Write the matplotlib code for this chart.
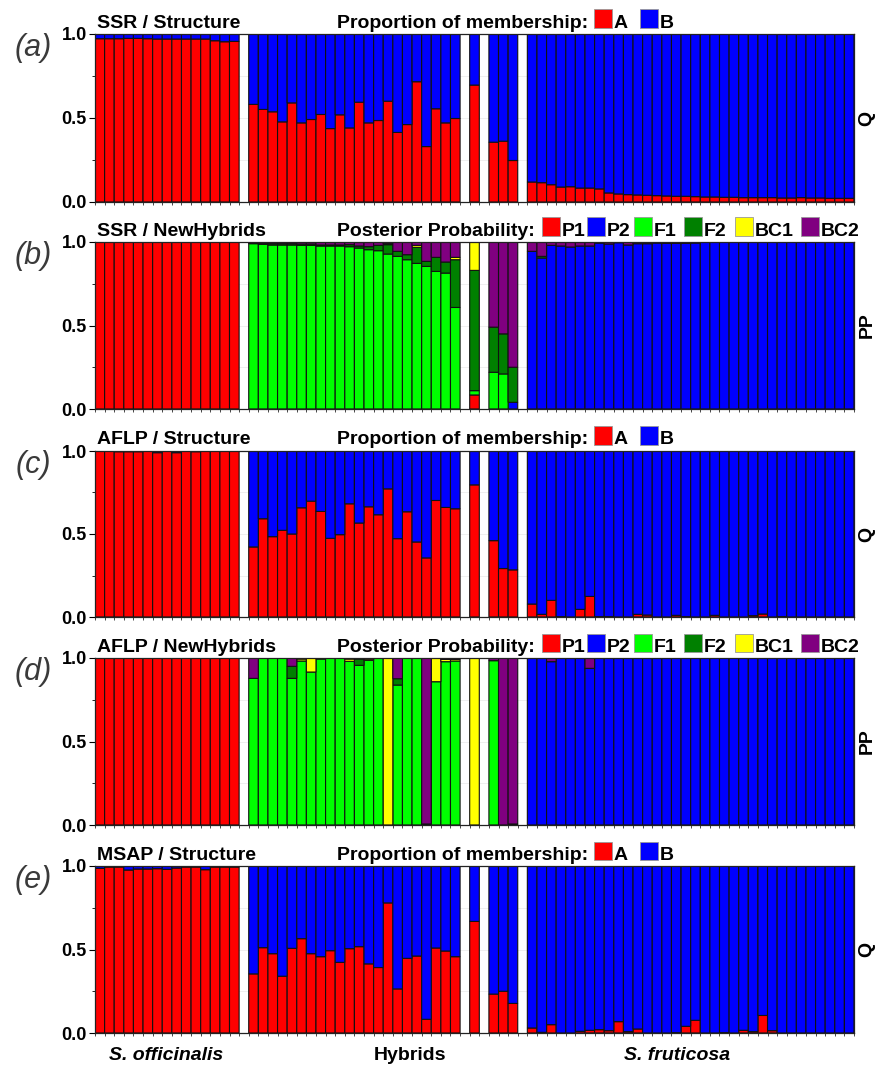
# Gràfic d'assignació genètica (Structure / NewHybrids) en cinc panells
import numpy as np
import matplotlib.pyplot as plt
from matplotlib.patches import Rectangle

plt.rcParams['font.family'] = ['Liberation Sans', 'DejaVu Sans']

W, H = 877, 1074

# mides dels grups: S. officinalis, híbrids, 1 individu, 3 individus, S. fruticosa
group_sizes = [15, 22, 1, 3, 34]

# (a) SSR / Structure: proporció del clúster A (B és la resta)
ssr_str_A = ([0.972, 0.972, 0.972, 0.974, 0.974, 0.972, 0.97, 0.97, 0.97, 0.97, 0.97, 0.97, 0.96, 0.954, 0.956]
             + [0.581, 0.551, 0.537, 0.477, 0.590, 0.471, 0.491, 0.521, 0.437, 0.519, 0.441,
                0.594, 0.471, 0.485, 0.600, 0.414, 0.461, 0.716, 0.330, 0.555, 0.471, 0.497]
             + [0.696]
             + [0.356, 0.362, 0.247]
             + [0.119, 0.115, 0.103, 0.089, 0.091, 0.083, 0.083, 0.078, 0.054, 0.048, 0.044, 0.042,
                0.040, 0.038, 0.036, 0.034, 0.034, 0.032, 0.030, 0.030, 0.028, 0.028, 0.026, 0.026,
                0.026, 0.026, 0.024, 0.024, 0.026, 0.024, 0.024, 0.022, 0.022, 0.022])

# (b) SSR / NewHybrids: probabilitat posterior per classe
ssr_nh_P1 = [1.0] * 15 + [0.0] * 22 + [0.084] + [0.0, 0.0, 0.0] + [0.0] * 34
ssr_nh_P2 = ([0.0] * 15 + [0.0] * 22 + [0.0] + [0.0, 0.0, 0.04]
             + [0.944, 0.904, 0.98, 0.976, 0.97, 0.976, 0.976, 0.994, 0.988, 0.996, 0.982, 0.99,
                0.99, 0.994, 0.992, 0.992, 0.992, 0.994] + [1.0] * 16)
ssr_nh_F1 = ([0.0] * 15
             + [0.99, 0.986, 0.982, 0.982, 0.982, 0.98, 0.98, 0.976, 0.976, 0.976, 0.972,
                0.964, 0.954, 0.948, 0.928, 0.914, 0.894, 0.872, 0.854, 0.824, 0.814, 0.608]
             + [0.026] + [0.22, 0.21, 0.0] + [0.0] * 34)
ssr_nh_F2 = ([0.0] * 15
             + [0.004, 0.006, 0.008, 0.008, 0.008, 0.008, 0.008, 0.006, 0.006, 0.006, 0.012,
                0.012, 0.018, 0.032, 0.056, 0.03, 0.03, 0.096, 0.03, 0.084, 0.066, 0.286]
             + [0.72] + [0.27, 0.24, 0.21] + [0.0, 0.01] + [0.0] * 32)
ssr_nh_BC1 = ([0.0] * 15
              + [0.0] * 14 + [0.006, 0.0, 0.0, 0.012, 0.0, 0.0, 0.0, 0.014]
              + [0.17] + [0.0, 0.0, 0.0] + [0.0] * 34)
ssr_nh_BC2 = ([0.0] * 15
              + [0.006, 0.008, 0.01, 0.01, 0.01, 0.012, 0.012, 0.018, 0.018, 0.018, 0.016,
                 0.024, 0.028, 0.02, 0.01, 0.056, 0.076, 0.02, 0.116, 0.092, 0.12, 0.092]
              + [0.0] + [0.51, 0.55, 0.75]
              + [0.056, 0.086, 0.02, 0.024, 0.03, 0.024, 0.024, 0.006, 0.012, 0.004, 0.018, 0.01,
                 0.01, 0.006, 0.008, 0.008, 0.008, 0.006] + [0.0] * 16)

# (c) AFLP / Structure
aflp_str_A = ([1.0, 1.0, 0.996, 0.996, 0.996, 1.0, 0.99, 1.0, 0.99, 1.0, 0.996, 1.0, 1.0, 1.0, 1.0]
              + [0.422, 0.592, 0.484, 0.522, 0.50, 0.658, 0.698, 0.636, 0.474, 0.496, 0.682,
                 0.566, 0.664, 0.616, 0.772, 0.472, 0.634, 0.452, 0.356, 0.702, 0.66, 0.652]
              + [0.796]
              + [0.46, 0.292, 0.284]
              + [0.078, 0.016, 0.10, 0.002, 0.0, 0.046, 0.124, 0.002, 0.002, 0.0, 0.0, 0.016,
                 0.012, 0.0, 0.0, 0.01, 0.002, 0.0, 0.0, 0.01, 0.0, 0.0, 0.0, 0.008, 0.018, 0.0,
                 0.002, 0.0, 0.0, 0.0, 0.0, 0.0, 0.0, 0.0])

# (d) AFLP / NewHybrids
aflp_nh_P1 = [1.0] * 15 + [0.0] * 22 + [0.0] + [0.0, 0.0, 0.0] + [0.0] * 34
aflp_nh_P2 = ([0.0] * 15 + [0.0] * 22 + [0.0] + [0.0, 0.0, 0.0]
              + [0.998, 1.0, 0.978, 1.0, 1.0, 1.0, 0.938] + [1.0] * 27)
aflp_nh_F1 = ([0.0] * 15
              + [0.878, 1.0, 1.0, 1.0, 0.878, 0.982, 0.916, 0.994, 1.0, 1.0, 0.98,
                 0.956, 0.986, 1.0, 0.0, 0.838, 1.0, 1.0, 0.0, 0.858, 0.978, 0.982]
              + [0.0] + [0.984, 0.0, 0.0] + [0.0] * 34)
aflp_nh_F2 = ([0.0] * 15
              + [0.0, 0.0, 0.0, 0.0, 0.072, 0.0, 0.0, 0.0, 0.0, 0.0, 0.0,
                 0.038, 0.0, 0.0, 0.0, 0.038, 0.0, 0.0, 0.006, 0.0, 0.0, 0.0]
              + [0.0] + [0.0, 0.0, 0.006] + [0.0] * 34)
aflp_nh_BC1 = ([0.0] * 15
               + [0.0, 0.0, 0.0, 0.0, 0.0, 0.012, 0.084, 0.0, 0.0, 0.0, 0.014,
                  0.0, 0.008, 0.0, 1.0, 0.0, 0.0, 0.0, 0.0, 0.142, 0.014, 0.01]
               + [1.0] + [0.0, 0.0, 0.0] + [0.0] * 34)
aflp_nh_BC2 = ([0.0] * 15
               + [0.122, 0.0, 0.0, 0.0, 0.05, 0.006, 0.0, 0.006, 0.0, 0.0, 0.006,
                  0.006, 0.006, 0.0, 0.0, 0.124, 0.0, 0.0, 0.994, 0.0, 0.008, 0.008]
               + [0.0] + [0.016, 1.0, 0.994]
               + [0.002, 0.0, 0.022, 0.0, 0.0, 0.0, 0.062] + [0.0] * 27)

# (e) MSAP / Structure
msap_str_A = ([0.986, 0.994, 0.994, 0.976, 0.982, 0.982, 0.984, 0.98, 0.988, 0.994, 0.994, 0.978, 0.994, 0.994, 0.994]
              + [0.354, 0.511, 0.475, 0.34, 0.507, 0.565, 0.475, 0.457, 0.493, 0.423, 0.505,
                 0.517, 0.414, 0.392, 0.779, 0.264, 0.447, 0.461, 0.082, 0.509, 0.491, 0.457]
              + [0.668]
              + [0.233, 0.25, 0.177]
              + [0.03, 0.004, 0.05, 0.0, 0.0, 0.01, 0.016, 0.02, 0.014, 0.068, 0.008, 0.024,
                 0.0, 0.0, 0.0, 0.002, 0.04, 0.076, 0.0, 0.0, 0.002, 0.0, 0.016, 0.008, 0.105,
                 0.014, 0.0, 0.0, 0.0, 0.0, 0.0, 0.0, 0.0, 0.0])

str_labels = ['A', 'B']
str_colors = ['#ff0000', '#0000ff']
nh_labels = ['P1', 'P2', 'F1', 'F2', 'BC1', 'BC2']
nh_colors = ['#ff0000', '#0000ff', '#00ff00', '#008000', '#ffff00', '#800080']

panels = [
    ('(a)', 'SSR / Structure', 'Q', [ssr_str_A, list(1 - np.array(ssr_str_A))]),
    ('(b)', 'SSR / NewHybrids', 'PP', [ssr_nh_P1, ssr_nh_P2, ssr_nh_F1, ssr_nh_F2, ssr_nh_BC1, ssr_nh_BC2]),
    ('(c)', 'AFLP / Structure', 'Q', [aflp_str_A, list(1 - np.array(aflp_str_A))]),
    ('(d)', 'AFLP / NewHybrids', 'PP', [aflp_nh_P1, aflp_nh_P2, aflp_nh_F1, aflp_nh_F2, aflp_nh_BC1, aflp_nh_BC2]),
    ('(e)', 'MSAP / Structure', 'Q', [msap_str_A, list(1 - np.array(msap_str_A))]),
]

# posicions en píxels de cada panell (dalt, baix)
tops = [34, 242, 451, 658, 866]
bottoms = [202, 409, 617, 825, 1033]
x_left, x_right = 95, 854

# posicions de les barres, amb un buit entre grups
xs = []
pos = 0
for n in group_sizes:
    xs.extend(range(pos, pos + n))
    pos += n + 1
xs = np.array(xs)
n_slots = pos - 1

fig = plt.figure(figsize=(W / 100, H / 100), dpi=100)


def legend_row(top, title, labels, colors, box_x):
    base = 1 - (top - 6.5) / H
    fig.text(337 / W, base, title, fontsize=14, fontweight='bold', va='baseline')
    for lab, col, bx in zip(labels, colors, box_x):
        fig.add_artist(Rectangle((bx / W, base), 18 / W, 18 / H, transform=fig.transFigure,
                                 facecolor=col, edgecolor='#999999', lw=0.6))
        fig.text((bx + 20) / W, base, lab, fontsize=14, fontweight='bold', va='baseline')


for i, (letter, title, rlabel, series) in enumerate(panels):
    ax = fig.add_axes([x_left / W, 1 - bottoms[i] / H, (x_right - x_left) / W,
                       (bottoms[i] - tops[i]) / H])
    colors = str_colors if len(series) == 2 else nh_colors
    bottom = np.zeros(len(xs))
    for vals, col in zip(series, colors):
        vals = np.array(vals, dtype=float)
        m = vals > 0.0005
        bars = ax.bar(xs[m], vals[m], width=1.0, bottom=bottom[m], color=col,
                      edgecolor='#111111', linewidth=0.8, zorder=2)
        for b in bars:
            b.set_snap(False)
        bottom += vals

    ax.set_xlim(-0.5, n_slots - 0.5)
    ax.set_ylim(0, 1)
    ax.set_yticks([0, 0.5, 1.0])
    ax.set_yticklabels(['0.0', '0.5', '1.0'], fontweight='bold', fontsize=13)
    ax.set_yticks([0.25, 0.75], minor=True)
    ax.set_xticks(np.arange(-0.5, n_slots, 1.0))
    ax.set_xticklabels([])
    ax.tick_params(axis='y', which='major', direction='out', length=4, width=0.8, pad=2)
    ax.tick_params(axis='y', which='minor', direction='out', length=2.5, width=0.6)
    ax.tick_params(axis='x', direction='out', length=2, width=0.5)
    ax.grid(axis='y', which='both', color='#ececec', lw=0.6, zorder=0)
    ax.set_axisbelow(True)
    for s in ax.spines.values():
        s.set_linewidth(0.9)
        s.set_color('#222222')

    # títol a l'esquerra i etiqueta a la dreta
    ax.text(0.003, 1.0 + 6.5 / (bottoms[i] - tops[i]), title, transform=ax.transAxes,
            fontsize=14, fontweight='bold', va='baseline', ha='left')
    ax.text((867 - x_left) / (x_right - x_left), 0.5, rlabel, transform=ax.transAxes,
            fontsize=14, fontweight='bold', rotation=90, ha='center', va='center')
    fig.text(33 / W, 1 - (tops[i] + 14) / H, letter, fontsize=22, style='italic',
             color='#3a3a3a', ha='center', va='center')

    if len(series) == 2:
        legend_row(tops[i], 'Proportion of membership:', str_labels, str_colors, [594, 640])
    else:
        legend_row(tops[i], 'Posterior Probability:', nh_labels, nh_colors,
                   [542, 587, 634, 684, 735, 801])

# noms dels grups a la part inferior
fig.text(166 / W, 1 - 1055 / H, 'S. officinalis', fontsize=14, fontweight='bold',
         style='italic', ha='center', va='center')
fig.text(410 / W, 1 - 1055 / H, 'Hybrids', fontsize=14, fontweight='bold',
         ha='center', va='center')
fig.text(677 / W, 1 - 1055 / H, 'S. fruticosa', fontsize=14, fontweight='bold',
         style='italic', ha='center', va='center')

fig.savefig('out.png', dpi=100)
